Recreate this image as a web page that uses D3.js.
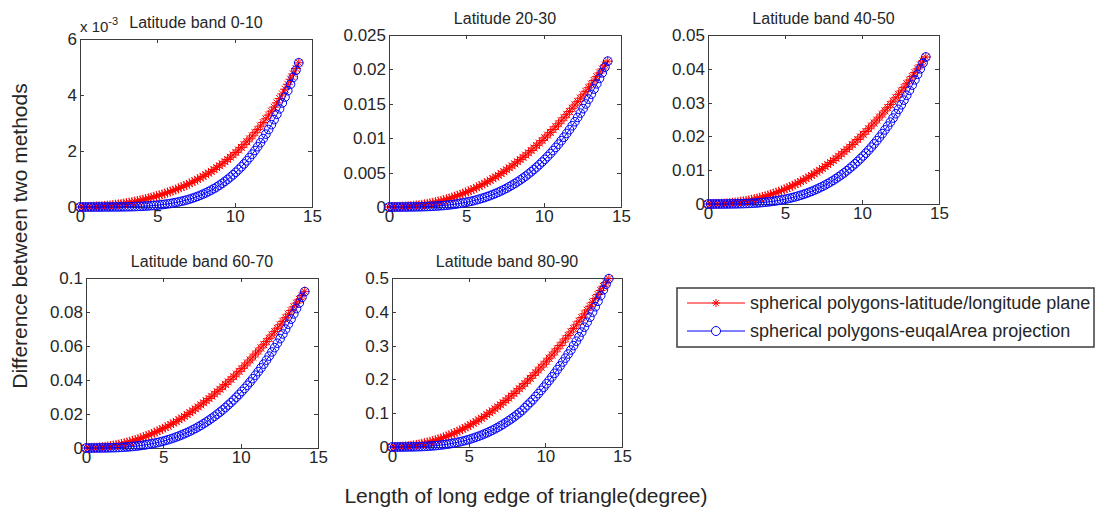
<!DOCTYPE html>
<html lang="en">
<head>
<meta charset="utf-8">
<title>Difference between two methods</title>
<script src="https://cdnjs.cloudflare.com/ajax/libs/d3/7.8.5/d3.min.js"></script>
<style>
	body {
		margin: 0;
		background-color: white;
	}
	svg text {
		font-family: "Liberation Sans", Arial, Helvetica, sans-serif;
		fill: #262626;
	}
	.axis path,
	.axis line {
		fill: none;
		stroke: #3c3c3c;
		shape-rendering: crispEdges;
	}
	.axis text {
		font-size: 17px;
	}
	.title {
		font-size: 16px;
	}
	.label {
		font-size: 21px;
	}
	.legend text {
		font-size: 18px;
	}
</style>
</head>
<body>
<script>
// length of long edge of triangle (degree), same for every panel
var xs = [0, 0.177, 0.354, 0.530, 0.707, 0.884, 1.061, 1.237, 1.414, 1.591, 1.768, 1.945, 2.121, 2.298, 2.475,
	2.652, 2.828, 3.005, 3.182, 3.359, 3.536, 3.712, 3.889, 4.066, 4.243, 4.419, 4.596, 4.773, 4.950, 5.126,
	5.303, 5.480, 5.657, 5.834, 6.010, 6.187, 6.364, 6.541, 6.718, 6.894, 7.071, 7.248, 7.425, 7.601, 7.778,
	7.955, 8.132, 8.308, 8.485, 8.662, 8.839, 9.016, 9.192, 9.369, 9.546, 9.723, 9.899, 10.076, 10.253, 10.430,
	10.607, 10.783, 10.960, 11.137, 11.314, 11.490, 11.667, 11.844, 12.021, 12.198, 12.374, 12.551, 12.728,
	12.905, 13.081, 13.258, 13.435, 13.612, 13.788, 13.965, 14.142];

// latitude band 0-10 (values in units of 1e-3)
var band0_10Red = [0, 0.001, 0.002, 0.004, 0.008, 0.012, 0.017, 0.024, 0.031, 0.039, 0.048, 0.059, 0.070, 0.082,
	0.095, 0.109, 0.124, 0.140, 0.158, 0.176, 0.195, 0.216, 0.237, 0.260, 0.283, 0.308, 0.334, 0.361, 0.389,
	0.419, 0.450, 0.482, 0.516, 0.550, 0.587, 0.625, 0.664, 0.705, 0.747, 0.791, 0.837, 0.884, 0.934, 0.985,
	1.038, 1.094, 1.151, 1.211, 1.273, 1.337, 1.404, 1.473, 1.545, 1.619, 1.697, 1.777, 1.860, 1.947, 2.037,
	2.130, 2.227, 2.328, 2.432, 2.540, 2.653, 2.769, 2.890, 3.016, 3.147, 3.282, 3.422, 3.568, 3.719, 3.876,
	4.039, 4.208, 4.383, 4.564, 4.753, 4.948, 5.150];
var band0_10Blue = [0, 0, 0, 0, 0, 0, 0, 0, 0, 0.001, 0.001, 0.001, 0.002, 0.003, 0.003, 0.005, 0.006, 0.008,
	0.010, 0.012, 0.015, 0.019, 0.023, 0.027, 0.033, 0.039, 0.046, 0.054, 0.063, 0.073, 0.084, 0.096, 0.110,
	0.125, 0.142, 0.160, 0.180, 0.202, 0.226, 0.252, 0.280, 0.311, 0.344, 0.380, 0.418, 0.459, 0.504, 0.552,
	0.603, 0.657, 0.715, 0.778, 0.843, 0.914, 0.988, 1.068, 1.151, 1.240, 1.335, 1.434, 1.538, 1.649, 1.765,
	1.888, 2.017, 2.152, 2.295, 2.445, 2.602, 2.767, 2.940, 3.118, 3.308, 3.506, 3.714, 3.927, 4.153, 4.385,
	4.631, 4.885, 5.150];

// latitude 20-30
var band20_30Red = [0, 0.000001, 0.000006, 0.000016, 0.000029, 0.000048, 0.000071, 0.0001, 0.000134, 0.000173,
	0.000219, 0.000269, 0.000326, 0.000389, 0.000458, 0.000533, 0.000615, 0.000703, 0.000796, 0.000897,
	0.001004, 0.001118, 0.001238, 0.001365, 0.0015, 0.00164, 0.001789, 0.001944, 0.002106, 0.002273, 0.002451,
	0.002633, 0.002826, 0.003023, 0.003229, 0.003441, 0.003657, 0.003886, 0.004123, 0.004363, 0.004617,
	0.004872, 0.005137, 0.005408, 0.005688, 0.005977, 0.006273, 0.006578, 0.006892, 0.007214, 0.007537,
	0.007875, 0.008213, 0.00857, 0.008925, 0.009299, 0.009671, 0.010052, 0.010452, 0.010851, 0.011257,
	0.011673, 0.012097, 0.012529, 0.01297, 0.013422, 0.013882, 0.014349, 0.014827, 0.015314, 0.015809,
	0.016298, 0.016812, 0.017335, 0.017867, 0.018391, 0.018942, 0.019483, 0.020053, 0.020622, 0.0212];
var band20_30Blue = [0, 0, 0, 0, 0.000001, 0.000002, 0.000004, 0.000007, 0.000011, 0.000016, 0.000022, 0.00003,
	0.000041, 0.000053, 0.000067, 0.000085, 0.000105, 0.000128, 0.000154, 0.000185, 0.000219, 0.000257,
	0.000299, 0.000347, 0.000399, 0.000456, 0.00052, 0.000588, 0.000664, 0.000745, 0.000833, 0.000928,
	0.001031, 0.001141, 0.00126, 0.001385, 0.00152, 0.001665, 0.001818, 0.00198, 0.002152, 0.002334, 0.002527,
	0.002732, 0.002949, 0.003173, 0.003413, 0.003663, 0.003928, 0.004204, 0.004492, 0.004801, 0.005118,
	0.005449, 0.005796, 0.006159, 0.006538, 0.006924, 0.007335, 0.007764, 0.008202, 0.008665, 0.009137,
	0.009639, 0.010148, 0.010689, 0.011238, 0.011806, 0.012394, 0.013017, 0.013649, 0.014301, 0.014976,
	0.015673, 0.016392, 0.017136, 0.017903, 0.018695, 0.019491, 0.020333, 0.0212];

// latitude band 40-50
var band40_50Red = [0, 0.000003, 0.000013, 0.000032, 0.00006, 0.000098, 0.000146, 0.000205, 0.000274, 0.000356,
	0.000448, 0.000553, 0.000669, 0.000798, 0.00094, 0.001094, 0.001262, 0.001442, 0.001634, 0.00184, 0.002061,
	0.002293, 0.00254, 0.002801, 0.003077, 0.003365, 0.003671, 0.003989, 0.004322, 0.004664, 0.005029,
	0.005402, 0.005799, 0.006203, 0.006625, 0.007061, 0.007504, 0.007974, 0.008461, 0.008953, 0.009474,
	0.009997, 0.01054, 0.011097, 0.011671, 0.012263, 0.012872, 0.013498, 0.014142, 0.014802, 0.015464,
	0.016158, 0.016852, 0.017584, 0.018314, 0.01908, 0.019845, 0.020626, 0.021446, 0.022264, 0.023099,
	0.023951, 0.024821, 0.025709, 0.026613, 0.027539, 0.028484, 0.029443, 0.030424, 0.031422, 0.032438,
	0.033441, 0.034496, 0.035569, 0.036662, 0.037735, 0.038867, 0.039976, 0.041147, 0.042313, 0.0435];
var band40_50Blue = [0, 0, 0, 0.000001, 0.000002, 0.000005, 0.000008, 0.000014, 0.000022, 0.000032, 0.000046,
	0.000062, 0.000083, 0.000108, 0.000138, 0.000174, 0.000215, 0.000262, 0.000317, 0.000379, 0.000448,
	0.000526, 0.000614, 0.000711, 0.000819, 0.000936, 0.001066, 0.001207, 0.001362, 0.001529, 0.001709,
	0.001903, 0.002116, 0.002342, 0.002585, 0.002841, 0.00312, 0.003417, 0.00373, 0.004062, 0.004415, 0.00479,
	0.005185, 0.005607, 0.006051, 0.006511, 0.007004, 0.007515, 0.008061, 0.008626, 0.009218, 0.00985,
	0.010501, 0.011182, 0.011893, 0.012637, 0.013415, 0.014208, 0.015051, 0.015931, 0.01683, 0.01778,
	0.018749, 0.019778, 0.020823, 0.021932, 0.023059, 0.024224, 0.02543, 0.02671, 0.028005, 0.029344,
	0.030728, 0.032159, 0.033634, 0.035162, 0.036736, 0.038361, 0.039994, 0.041722, 0.0435];

// latitude band 60-70
var band60_70Red = [0, 0.000014, 0.000058, 0.000129, 0.00023, 0.000359, 0.000518, 0.000704, 0.00092, 0.001164,
	0.001438, 0.001739, 0.00207, 0.002429, 0.002818, 0.003234, 0.00368, 0.004154, 0.004658, 0.005189, 0.00575,
	0.006339, 0.006958, 0.007604, 0.00828, 0.008984, 0.009718, 0.010479, 0.01127, 0.012089, 0.012938,
	0.013814, 0.01472, 0.015654, 0.016618, 0.017609, 0.01863, 0.019679, 0.020758, 0.021864, 0.023, 0.024164,
	0.025358, 0.026579, 0.02783, 0.029109, 0.030418, 0.031754, 0.03312, 0.034514, 0.035938, 0.037389, 0.03887,
	0.040379, 0.041918, 0.043484, 0.04508, 0.046704, 0.048358, 0.050039, 0.05175, 0.053489, 0.055258, 0.057054,
	0.05888, 0.060734, 0.062618, 0.064529, 0.06647, 0.068439, 0.070438, 0.072464, 0.07452, 0.076604, 0.078718,
	0.080859, 0.08303, 0.085229, 0.087458, 0.089714, 0.092];
var band60_70Blue = [0, 0, 0.000001, 0.000005, 0.000012, 0.000022, 0.000039, 0.000062, 0.000092, 0.000131,
	0.00018, 0.000239, 0.00031, 0.000395, 0.000493, 0.000607, 0.000736, 0.000883, 0.001048, 0.001232, 0.001438,
	0.001664, 0.001913, 0.002186, 0.002484, 0.002808, 0.003158, 0.003537, 0.003945, 0.004382, 0.004852,
	0.005353, 0.005888, 0.006457, 0.007062, 0.007704, 0.008384, 0.009102, 0.00986, 0.010659, 0.0115, 0.012384,
	0.013313, 0.014286, 0.015307, 0.016374, 0.01749, 0.018656, 0.019872, 0.02114, 0.022461, 0.023836, 0.025266,
	0.026751, 0.028294, 0.029896, 0.031556, 0.033277, 0.035059, 0.036904, 0.038813, 0.040786, 0.042825,
	0.04493, 0.047104, 0.049347, 0.051659, 0.054043, 0.0565, 0.059029, 0.061633, 0.064312, 0.067068, 0.069902,
	0.072814, 0.075806, 0.078879, 0.082033, 0.085271, 0.088593, 0.092];

// latitude band 80-90
var band80_90Red = [0, 0.0001, 0.0003, 0.0007, 0.0013, 0.002, 0.0028, 0.0038, 0.005, 0.0063, 0.0078, 0.0095,
	0.0113, 0.0132, 0.0153, 0.0176, 0.02, 0.0226, 0.0253, 0.0282, 0.0313, 0.0345, 0.0378, 0.0413, 0.045, 0.0488,
	0.0528, 0.057, 0.0613, 0.0657, 0.0703, 0.0751, 0.08, 0.0851, 0.0903, 0.0957, 0.1013, 0.107, 0.1128, 0.1188,
	0.125, 0.1313, 0.1378, 0.1445, 0.1513, 0.1582, 0.1653, 0.1726, 0.18, 0.1876, 0.1953, 0.2032, 0.2113, 0.2195,
	0.2278, 0.2363, 0.245, 0.2538, 0.2628, 0.272, 0.2813, 0.2907, 0.3003, 0.3101, 0.32, 0.3301, 0.3403, 0.3507,
	0.3613, 0.372, 0.3828, 0.3938, 0.405, 0.4163, 0.4278, 0.4395, 0.4513, 0.4632, 0.4753, 0.4866, 0.498];
var band80_90Blue = [0, 0, 0, 0, 0.0001, 0.0001, 0.0002, 0.0003, 0.0005, 0.0007, 0.001, 0.0013, 0.0017, 0.0021,
	0.0027, 0.0033, 0.004, 0.0048, 0.0057, 0.0067, 0.0078, 0.009, 0.0104, 0.0119, 0.0135, 0.0153, 0.0172, 0.0192,
	0.0214, 0.0238, 0.0264, 0.0291, 0.032, 0.0351, 0.0384, 0.0419, 0.0456, 0.0495, 0.0536, 0.0579, 0.0625,
	0.0673, 0.0724, 0.0776, 0.0832, 0.089, 0.0951, 0.1014, 0.108, 0.116, 0.124, 0.132, 0.14, 0.149, 0.158,
	0.1675, 0.177, 0.187, 0.197, 0.2075, 0.218, 0.229, 0.24, 0.2515, 0.263, 0.275, 0.287, 0.3, 0.313, 0.326,
	0.34, 0.3545, 0.369, 0.384, 0.399, 0.415, 0.431, 0.448, 0.465, 0.4815, 0.498];

// tick labels
var xTicks = [0, 5, 10, 15];
var ticks0_10 = [0, 2, 4, 6];
var ticks20_30 = [0, 0.005, 0.01, 0.015, 0.02, 0.025];
var ticks40_50 = [0, 0.01, 0.02, 0.03, 0.04, 0.05];
var ticks60_70 = [0, 0.02, 0.04, 0.06, 0.08, 0.1];
var ticks80_90 = [0, 0.1, 0.2, 0.3, 0.4, 0.5];

var seriesNames = ["spherical polygons-latitude/longitude plane", "spherical polygons-euqalArea projection"];

var panels = [
	{ title: "Latitude band 0-10", red: band0_10Red, blue: band0_10Blue, ticks: ticks0_10, exponent: "-3",
		left: 80, top: 39, width: 232, height: 168 },
	{ title: "Latitude 20-30", red: band20_30Red, blue: band20_30Blue, ticks: ticks20_30,
		left: 389, top: 35, width: 232, height: 172 },
	{ title: "Latitude band 40-50", red: band40_50Red, blue: band40_50Blue, ticks: ticks40_50,
		left: 708, top: 35, width: 231, height: 169 },
	{ title: "Latitude band 60-70", red: band60_70Red, blue: band60_70Blue, ticks: ticks60_70,
		left: 86, top: 278, width: 232, height: 170 },
	{ title: "Latitude band 80-90", red: band80_90Red, blue: band80_90Blue, ticks: ticks80_90,
		left: 392, top: 278, width: 230, height: 169 }
];

var RED = "#ff0000";
var BLUE = "#0000ff";
var starR = 5;

// MATLAB style '*' marker
function starPath(r) {
	var d = r * 0.7;
	return "M" + (-r) + ",0L" + r + ",0M0," + (-r) + "L0," + r +
		"M" + (-d) + "," + (-d) + "L" + d + "," + d + "M" + (-d) + "," + d + "L" + d + "," + (-d);
}

var svg = d3.select("body")
	.append("svg")
	.attr("width", 1102)
	.attr("height", 512);

panels.forEach(function(p) {

	var g = svg.append("g")
		.attr("transform", "translate(" + p.left + "," + p.top + ")");

	var xScale = d3.scaleLinear()
		.domain([0, 15])
		.range([0, p.width]);

	var yScale = d3.scaleLinear()
		.domain([0, p.ticks[p.ticks.length - 1]])
		.range([p.height, 0]);

	// box with inward ticks on all four sides
	g.append("g")
		.attr("class", "axis")
		.attr("transform", "translate(0," + p.height + ")")
		.call(d3.axisBottom(xScale).tickValues(xTicks).tickSizeInner(-4).tickSizeOuter(0).tickPadding(3));

	g.append("g")
		.attr("class", "axis")
		.call(d3.axisTop(xScale).tickValues(xTicks).tickFormat("").tickSizeInner(-4).tickSizeOuter(0));

	g.append("g")
		.attr("class", "axis")
		.call(d3.axisLeft(yScale).tickValues(p.ticks).tickFormat(function(d) { return String(d); })
			.tickSizeInner(-4).tickSizeOuter(0).tickPadding(3));

	g.append("g")
		.attr("class", "axis")
		.attr("transform", "translate(" + p.width + ",0)")
		.call(d3.axisRight(yScale).tickValues(p.ticks).tickFormat("").tickSizeInner(-4).tickSizeOuter(0));

	g.selectAll(".axis text").attr("fill", "#262626");

	var line = d3.line()
		.x(function(d, i) { return xScale(xs[i]); })
		.y(function(d) { return yScale(d); });

	// red series: line + stars
	g.append("path")
		.datum(p.red)
		.attr("d", line)
		.attr("fill", "none")
		.attr("stroke", RED)
		.attr("stroke-width", 1);

	g.selectAll("path.star")
		.data(p.red)
		.enter()
		.append("path")
		.attr("class", "star")
		.attr("transform", function(d, i) { return "translate(" + xScale(xs[i]) + "," + yScale(d) + ")"; })
		.attr("d", starPath(starR))
		.attr("fill", "none")
		.attr("stroke", RED)
		.attr("stroke-width", 1);

	// blue series: line + circles
	g.append("path")
		.datum(p.blue)
		.attr("d", line)
		.attr("fill", "none")
		.attr("stroke", BLUE)
		.attr("stroke-width", 1);

	g.selectAll("circle")
		.data(p.blue)
		.enter()
		.append("circle")
		.attr("cx", function(d, i) { return xScale(xs[i]); })
		.attr("cy", function(d) { return yScale(d); })
		.attr("r", 4.3)
		.attr("fill", "none")
		.attr("stroke", BLUE)
		.attr("stroke-width", 1);

	g.append("text")
		.attr("class", "title")
		.attr("x", p.width / 2)
		.attr("y", -11)
		.attr("text-anchor", "middle")
		.text(p.title);

	if (p.exponent) {
		var ex = g.append("text")
			.attr("x", 0)
			.attr("y", -7)
			.style("font-size", "15px");
		ex.append("tspan").text("x 10");
		ex.append("tspan")
			.attr("dy", -7)
			.style("font-size", "11px")
			.text(p.exponent);
	}
});

// shared axis labels
svg.append("text")
	.attr("class", "label")
	.attr("text-anchor", "middle")
	.attr("transform", "translate(27,236) rotate(-90)")
	.text("Difference between two methods");

svg.append("text")
	.attr("class", "label")
	.attr("text-anchor", "middle")
	.attr("x", 526)
	.attr("y", 503)
	.text("Length of long edge of triangle(degree)");

// legend
var legend = svg.append("g")
	.attr("class", "legend")
	.attr("transform", "translate(677,288)");

legend.append("rect")
	.attr("width", 417)
	.attr("height", 59)
	.attr("fill", "white")
	.attr("stroke", "#3c3c3c")
	.attr("stroke-width", 1.5);

seriesNames.forEach(function(name, i) {
	var cy = 15 + i * 28;
	var col = i === 0 ? RED : BLUE;
	legend.append("line")
		.attr("x1", 10).attr("x2", 68)
		.attr("y1", cy).attr("y2", cy)
		.attr("stroke", col)
		.attr("stroke-width", 1);
	if (i === 0) {
		legend.append("path")
			.attr("transform", "translate(39," + cy + ")")
			.attr("d", starPath(4))
			.attr("fill", "none")
			.attr("stroke", col);
	} else {
		legend.append("circle")
			.attr("cx", 39).attr("cy", cy).attr("r", 4.5)
			.attr("fill", "white")
			.attr("stroke", col);
	}
	legend.append("text")
		.attr("x", 73)
		.attr("y", cy + 6)
		.text(name);
});
</script>
</body>
</html>
